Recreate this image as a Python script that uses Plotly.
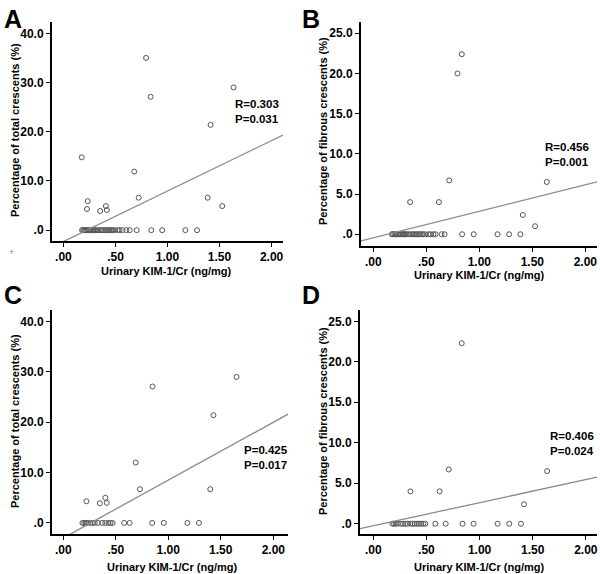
import plotly.graph_objects as go

W, H = 600, 574

# ---------------- data ----------------
# Panel A: total crescents vs urinary KIM-1/Cr
a_x = [0.176, 0.226, 0.233, 0.353, 0.408, 0.417, 0.68, 0.723, 0.794, 0.838, 1.386, 1.414, 1.526, 1.635,
       0.179, 0.19, 0.20, 0.21, 0.22, 0.235, 0.25, 0.265, 0.28, 0.29, 0.30, 0.315, 0.33, 0.35, 0.37,
       0.38, 0.40, 0.41, 0.43, 0.44, 0.46, 0.47, 0.49, 0.52, 0.54, 0.567, 0.605, 0.637, 0.704,
       0.844, 0.949, 1.172, 1.284]
a_y = [14.8, 4.3, 5.9, 3.9, 4.9, 4.1, 11.9, 6.6, 35.0, 27.1, 6.6, 21.4, 4.9, 29.0,
       0, 0, 0, 0, 0, 0, 0, 0, 0, 0, 0, 0, 0, 0, 0,
       0, 0, 0, 0, 0, 0, 0, 0, 0, 0, 0, 0, 0, 0,
       0, 0, 0, 0]

# Panel B: fibrous crescents vs urinary KIM-1/Cr
b_x = [0.347, 0.619, 0.716, 0.794, 0.835, 1.41, 1.526, 1.636,
       0.175, 0.185, 0.20, 0.21, 0.22, 0.235, 0.25, 0.265, 0.28, 0.29, 0.30, 0.315, 0.33, 0.35,
       0.37, 0.38, 0.40, 0.41, 0.43, 0.44, 0.46, 0.47, 0.49, 0.52, 0.54, 0.567, 0.587,
       0.644, 0.672, 0.838, 0.947, 1.172, 1.281, 1.387]
b_y = [4.0, 4.0, 6.7, 20.0, 22.4, 2.4, 1.0, 6.5,
       0, 0, 0, 0, 0, 0, 0, 0, 0, 0, 0, 0, 0, 0,
       0, 0, 0, 0, 0, 0, 0, 0, 0, 0, 0, 0, 0,
       0, 0, 0, 0, 0, 0, 0]

# Panel C: total crescents (subgroup)
c_x = [0.221, 0.348, 0.401, 0.414, 0.69, 0.73, 0.85, 1.40, 1.43, 1.65,
       0.183, 0.20, 0.215, 0.23, 0.26, 0.28, 0.30, 0.33, 0.37, 0.40, 0.43, 0.45, 0.47,
       0.58, 0.632, 0.847, 0.957, 1.182, 1.292]
c_y = [4.3, 3.9, 5.0, 4.0, 12.0, 6.7, 27.1, 6.7, 21.4, 29.0,
       0, 0, 0, 0, 0, 0, 0, 0, 0, 0, 0, 0, 0,
       0, 0, 0, 0, 0, 0]

# Panel D: fibrous crescents (subgroup)
d_x = [0.35, 0.624, 0.71, 0.832, 1.418, 1.636,
       0.18, 0.195, 0.21, 0.23, 0.26, 0.28, 0.30, 0.32, 0.35, 0.37, 0.39, 0.41, 0.43, 0.45, 0.47, 0.49,
       0.584, 0.681, 0.84, 0.944, 1.17, 1.28, 1.39]
d_y = [4.0, 4.0, 6.7, 22.3, 2.4, 6.5,
       0, 0, 0, 0, 0, 0, 0, 0, 0, 0, 0, 0, 0, 0, 0, 0,
       0, 0, 0, 0, 0, 0, 0]

# fitted regression lines (intercept, slope)
fit_intercept = [-2.3, -0.45, -3.0, -0.25]
fit_slope = [10.25, 3.3, 11.5, 2.85]

stats_text = ["R=0.303<br>P=0.031", "R=0.456<br>P=0.001", "P=0.425<br>P=0.017", "R=0.406<br>P=0.024"]
panel_letters = ["A", "B", "C", "D"]
y_titles = ["Percentage of total crescents (%)", "Percentage of fibrous crescents (%)",
            "Percentage of total crescents (%)", "Percentage of fibrous crescents (%)"]
x_title = "Urinary KIM-1/Cr (ng/mg)"

x_tickvals = [0, 0.5, 1.0, 1.5, 2.0]
x_ticktext = [".00", ".50", "1.00", "1.50", "2.00"]
y_tickvals_total = [0, 10, 20, 30, 40]
y_ticktext_total = [".0", "10.0", "20.0", "30.0", "40.0"]
y_tickvals_fib = [0, 5, 10, 15, 20, 25]
y_ticktext_fib = [".0", "5.0", "10.0", "15.0", "20.0", "25.0"]

# ---------------- layout helpers ----------------
def px(x):
    return x / W

def py(y):
    return 1 - y / H

def bold(lst):
    return ["<b>%s</b>" % t for t in lst]

# pixel boxes: (left, right, top, bottom)
boxes = [(52, 283, 22, 241), (361, 597, 22, 246), (52, 288, 310, 534), (360, 597, 310, 534)]
x_ranges = [[-0.11, 2.11], [-0.116, 2.11], [-0.107, 2.14], [-0.125, 2.105]]
y_ranges = [[-2.2, 42.3], [-1.46, 26.4], [-2.2, 42.3], [-1.27, 26.4]]
yticks = [(y_tickvals_total, y_ticktext_total), (y_tickvals_fib, y_ticktext_fib),
          (y_tickvals_total, y_ticktext_total), (y_tickvals_fib, y_ticktext_fib)]

xs = [a_x, b_x, c_x, d_x]
ys = [a_y, b_y, c_y, d_y]

FONT = "Liberation Sans, Arial, sans-serif"

fig = go.Figure()
layout = dict(width=W, height=H, margin=dict(l=0, r=0, t=0, b=0),
              paper_bgcolor="white", plot_bgcolor="white", showlegend=False,
              font=dict(family=FONT, color="black"))
annotations = []

for i in range(4):
    n = "" if i == 0 else str(i + 1)
    xa, ya = "x" + n, "y" + n
    L, R, T, B = boxes[i]
    layout["xaxis" + n] = dict(
        domain=[px(L), px(R)], range=x_ranges[i], anchor=ya,
        showgrid=False, zeroline=False, showline=True, linecolor="black", linewidth=2,
        ticks="outside", ticklen=4, tickwidth=1, tickcolor="black",
        tickvals=x_tickvals, ticktext=bold(x_ticktext),
        tickfont=dict(size=12, family=FONT, color="black"))
    layout["yaxis" + n] = dict(
        domain=[py(B), py(T)], range=y_ranges[i], anchor=xa,
        showgrid=False, zeroline=False, showline=True, linecolor="black", linewidth=2,
        ticks="outside", ticklen=4, tickwidth=1, tickcolor="black",
        tickvals=yticks[i][0], ticktext=bold(yticks[i][1]),
        tickfont=dict(size=12, family=FONT, color="black"))

    fig.add_trace(go.Scatter(
        x=xs[i], y=ys[i], mode="markers", xaxis=xa, yaxis=ya,
        marker=dict(symbol="circle-open", size=5, color="#555555", line=dict(width=1, color="#555555")),
        cliponaxis=False, hoverinfo="skip"))

    xr = x_ranges[i]
    fig.add_trace(go.Scatter(
        x=[xr[0], xr[1]],
        y=[fit_intercept[i] + fit_slope[i] * xr[0], fit_intercept[i] + fit_slope[i] * xr[1]],
        mode="lines", xaxis=xa, yaxis=ya, line=dict(color="#8a8a8a", width=1.3), hoverinfo="skip"))

# panel letters
letter_pos = [(2, 3), (300, 3), (2, 279), (300, 279)]
for i, (lx, ly) in enumerate(letter_pos):
    annotations.append(dict(text="<b>%s</b>" % panel_letters[i], x=px(lx), y=py(ly), xref="paper", yref="paper",
                            xanchor="left", yanchor="top", showarrow=False,
                            font=dict(size=25, family=FONT, color="black")))

# stats annotations
stat_pos = [(233, 112), (543, 154), (242, 457), (548, 443)]
for i, (sx, sy) in enumerate(stat_pos):
    annotations.append(dict(text="<b>%s</b>" % stats_text[i], x=px(sx), y=py(sy), xref="paper", yref="paper",
                            xanchor="left", yanchor="middle", align="left", showarrow=False,
                            font=dict(size=11.5, family=FONT, color="black")))

# x axis titles
xt_pos = [(166, 271), (479, 275), (172, 567), (479, 567)]
for (tx, ty) in xt_pos:
    annotations.append(dict(text="<b>%s</b>" % x_title, x=px(tx), y=py(ty), xref="paper", yref="paper",
                            xanchor="center", yanchor="middle", showarrow=False,
                            font=dict(size=11, family=FONT, color="black")))

# y axis titles
yt_pos = [(15, 130), (323, 131), (15, 421), (323, 421)]
for i, (tx, ty) in enumerate(yt_pos):
    annotations.append(dict(text="<b>%s</b>" % y_titles[i], x=px(tx), y=py(ty), xref="paper", yref="paper",
                            xanchor="center", yanchor="middle", textangle=-90, showarrow=False,
                            font=dict(size=11, family=FONT, color="black")))

# small stray mark
annotations.append(dict(text="+", x=px(7), y=py(252), xref="paper", yref="paper", showarrow=False,
                        font=dict(size=9, family=FONT, color="#888888")))

layout["annotations"] = annotations
fig.update_layout(**layout)
fig.write_html("out.html", config={"displayModeBar": False},
               post_script="document.body.style.margin='0px';document.body.style.padding='0px';"
                           "document.body.style.overflow='hidden';")
